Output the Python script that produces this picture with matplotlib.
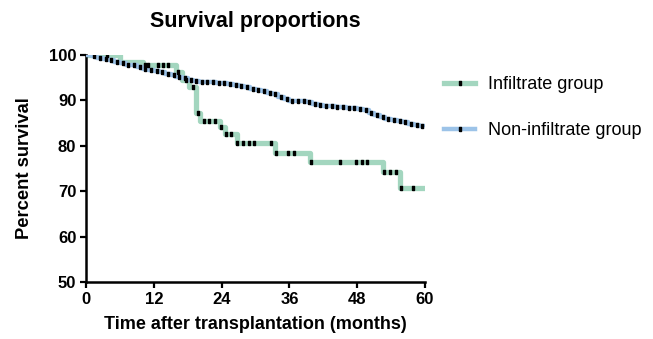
import matplotlib
matplotlib.use("Agg")
import matplotlib.pyplot as plt
import numpy as np
from matplotlib.lines import Line2D

plt.rcParams['font.family'] = ['Liberation Sans', 'DejaVu Sans']

# Infiltrate group: step times (months) and survival (%)
green_t = [0, 6, 10, 16, 17, 18.3, 19.4, 20.2, 23.7, 24.6, 26.7, 33.5, 39.6, 52.6, 55.6]
green_s = [100, 98.5, 97.8, 96.2, 94.5, 93.0, 87.3, 85.5, 84.2, 82.5, 80.7, 78.5, 76.5, 74.3, 70.6]
green_cens = [3.8, 10.4, 11.0, 12.8, 13.7, 14.6, 16.2, 17.7, 18.9, 19.8, 20.8, 21.8, 22.8,
              23.9, 24.8, 25.7, 26.8, 27.8, 28.8, 29.8, 32.7, 33.7, 35.8, 36.8, 39.8,
              44.9, 47.8, 48.8, 49.8, 52.8, 53.8, 54.8, 55.7, 57.8]

# Non-infiltrate group: survival (%) at months 0..60
blue_t = list(range(0, 61))
blue_s = [100, 99.8, 99.4, 99.1, 98.8, 98.5, 98.2, 97.9, 97.7, 97.3,
          97.0, 96.7, 96.4, 96.2, 95.9, 95.6, 95.2, 94.9, 94.5, 94.3,
          94.1, 94.0, 94.0, 93.9, 93.8, 93.7, 93.4, 93.2, 92.9, 92.6,
          92.3, 92.0, 91.7, 91.3, 90.8, 90.2, 89.9, 89.9, 89.8, 89.7,
          89.3, 88.9, 88.8, 88.7, 88.6, 88.5, 88.4, 88.3, 88.1, 87.8,
          87.2, 86.7, 86.4, 86.0, 85.7, 85.5, 85.2, 84.9, 84.6, 84.4, 84.2]
blue_cens = [t + 0.5 for t in range(1, 60)]

xticks = [0, 12, 24, 36, 48, 60]
yticks = [50, 60, 70, 80, 90, 100]

green_col = '#a3d6bf'
blue_col = '#9cc3e8'

fig = plt.figure(figsize=(6.53, 3.39), dpi=100)
ax = fig.add_axes([86/653, 1-282/339, (425-86)/653, (282-55)/339])

def step_val(ts, ss, x):
    idx = np.searchsorted(ts, x, side='right') - 1
    return np.asarray(ss)[idx]

rect = [(-0.35, -1), (0.35, -1), (0.35, 1), (-0.35, 1), (-0.35, -1)]

# green
gt = green_t + [60]
gs = green_s + [green_s[-1]]
ax.step(gt, gs, where='post', color=green_col, lw=3.8, solid_capstyle='butt', zorder=2)
ax.plot(green_cens, step_val(green_t, green_s, green_cens), ls='none', marker=rect,
        ms=3.2, color='black', zorder=4)

# blue
ax.step(blue_t, blue_s, where='post', color=blue_col, lw=3.2, solid_capstyle='butt', zorder=3)
ax.plot(blue_cens, step_val(blue_t, blue_s, blue_cens), ls='none', marker=rect,
        ms=3.2, color='black', zorder=4)

ax.set_xlim(0, 60)
ax.set_ylim(50, 100)
ax.set_xticks(xticks)
ax.set_yticks(yticks)
for sp in ['top', 'right']:
    ax.spines[sp].set_visible(False)
for sp in ['left', 'bottom']:
    ax.spines[sp].set_linewidth(1.8)
ax.tick_params(direction='out', length=4.5, width=1.6, labelsize=12, pad=2.5)
for lab in ax.get_xticklabels() + ax.get_yticklabels():
    lab.set_fontweight('bold')

ax.set_xlabel('Time after transplantation (months)', fontsize=13, fontweight='bold')
ax.xaxis.set_label_coords(0.5, -(316 - 282) / 227)
ax.set_ylabel('Percent survival', fontsize=13.2, fontweight='bold')
ax.yaxis.set_label_coords(-(86 - 33) / 339, 0.5)
fig.text(255.5/653, 1-22/339, 'Survival proportions', fontsize=15.5, fontweight='bold',
         ha='center', va='center')

h1 = Line2D([], [], color=green_col, lw=3.8, marker=rect, ms=3.2, mfc='black', mec='black')
h2 = Line2D([], [], color=blue_col, lw=3.2, marker=rect, ms=3.2, mfc='black', mec='black')
fig.legend([h1, h2], ['Infiltrate group', 'Non-infiltrate group'], loc='upper left',
           bbox_to_anchor=(437/653, 1-69/339), frameon=False, fontsize=13,
           handlelength=1.7, handletextpad=0.7, labelspacing=1.62, borderaxespad=0)

fig.savefig('out.png', dpi=100)
